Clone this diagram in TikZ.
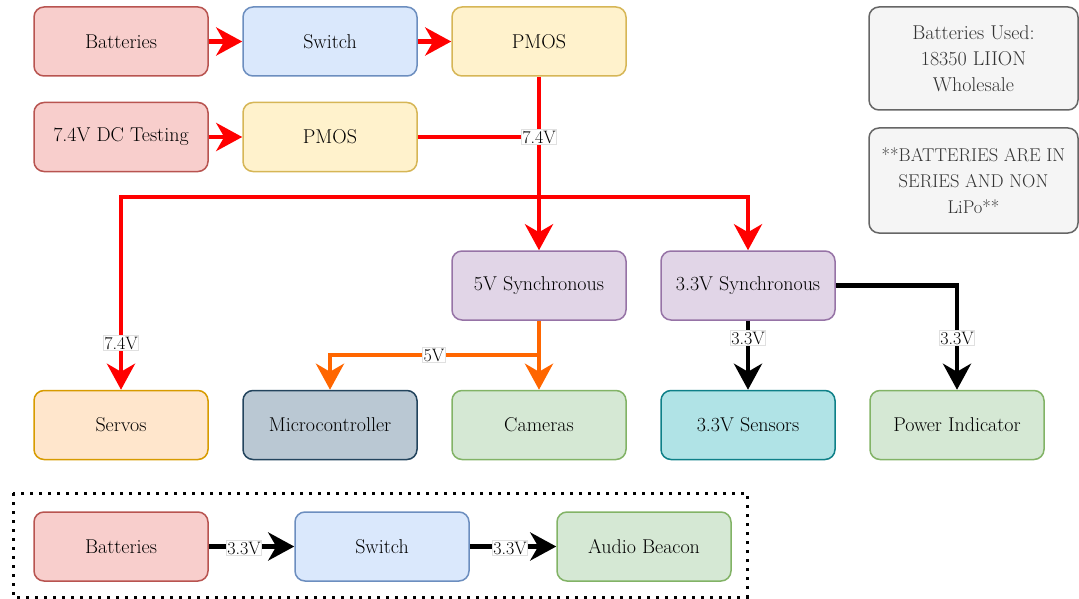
\documentclass[tikz,border=0pt]{standalone}
\usetikzlibrary{arrows.meta}
\definecolor{redF}{HTML}{F8CECC}\definecolor{redD}{HTML}{B85450}
\definecolor{bluF}{HTML}{DAE8FC}\definecolor{bluD}{HTML}{6C8EBF}
\definecolor{yelF}{HTML}{FFF2CC}\definecolor{yelD}{HTML}{D6B656}
\definecolor{purF}{HTML}{E1D5E7}\definecolor{purD}{HTML}{9673A6}
\definecolor{oraF}{HTML}{FFE6CC}\definecolor{oraD}{HTML}{D79B00}
\definecolor{slaF}{HTML}{BAC8D3}\definecolor{slaD}{HTML}{23445D}
\definecolor{grnF}{HTML}{D5E8D4}\definecolor{grnD}{HTML}{82B366}
\definecolor{tealF}{HTML}{B0E3E6}\definecolor{tealD}{HTML}{0E8088}
\definecolor{gryF}{HTML}{F5F5F5}\definecolor{gryD}{HTML}{666666}
\definecolor{gryT}{HTML}{333333}
\definecolor{wireR}{HTML}{FF0000}
\definecolor{wireO}{HTML}{FF6600}
\tikzset{
  box/.style={draw, rounded corners=10pt, line width=1.5pt, minimum width=174pt, minimum height=69pt, inner sep=0pt, align=center, font=\rmfamily\fontsize{20}{26}\selectfont},
  note/.style={box, fill=gryF, draw=gryD, text=gryT, minimum width=209pt},
  wire/.style={line width=4.5pt, -{Stealth[length=26pt,width=28pt,inset=8pt]}},
  plain/.style={line width=4.5pt},
  lbl/.style={fill=white, draw=black!12, line width=0.6pt, inner sep=1pt, font=\rmfamily\fontsize{18}{21}\selectfont}
}
\begin{document}
\begin{tikzpicture}[x=1pt,y=-1pt]
\useasboundingbox (0,0) rectangle (1079,599);
% nodes
\node[box, fill=redF, draw=redD] (bat1) at (121,41.5) {Batteries};
\node[box, fill=bluF, draw=bluD] (sw1) at (330,41.5) {Switch};
\node[box, fill=yelF, draw=yelD] (pmos1) at (539,41.5) {PMOS};
\node[box, fill=redF, draw=redD] (dc) at (121,137) {7.4V DC Testing};
\node[box, fill=yelF, draw=yelD] (pmos2) at (330,137) {PMOS};
\node[note, minimum height=103pt] (n1) at (973.5,58.5) {Batteries Used:\\18350 LIION\\Wholesale};
\node[note, minimum height=105pt, font=\rmfamily\fontsize{18.5}{26}\selectfont] (n2) at (973.5,180.5) {**BATTERIES ARE IN\\SERIES AND NON\\LiPo**};
\node[box, fill=purF, draw=purD] (s5) at (539,285.5) {5V Synchronous};
\node[box, fill=purF, draw=purD] (s33) at (748,285.5) {3.3V Synchronous};
\node[box, fill=oraF, draw=oraD] (servo) at (121,425) {Servos};
\node[box, fill=slaF, draw=slaD] (mcu) at (330,425) {Microcontroller};
\node[box, fill=grnF, draw=grnD] (cam) at (539,425) {Cameras};
\node[box, fill=tealF, draw=tealD] (sens) at (748,425) {3.3V Sensors};
\node[box, fill=grnF, draw=grnD] (pwr) at (957,425) {Power Indicator};
\node[box, fill=redF, draw=redD] (bat2) at (121,546.5) {Batteries};
\node[box, fill=bluF, draw=bluD] (sw2) at (382,546.5) {Switch};
\node[box, fill=grnF, draw=grnD] (beac) at (644,546.5) {Audio Beacon};
\draw[line width=3pt, dash pattern=on 3pt off 6pt] (13,493) rectangle (747,597);
% junctions
\coordinate (j1) at (539,137);
\coordinate (j2) at (539,197);
\coordinate (j3) at (539,355);
% red wires
\draw[wire, wireR] (bat1) -- (sw1);
\draw[wire, wireR] (sw1) -- (pmos1);
\draw[wire, wireR] (dc) -- (pmos2);
\draw[plain, wireR] (pmos2) -- (j1);
\draw[wire, wireR] (j2) -| (servo);
\draw[wire, wireR] (j2) -| (s33);
\draw[wire, wireR] (pmos1) -- (s5);
% orange wires
\draw[wire, wireO] (s5) -- (cam);
\draw[wire, wireO] (j3) -| (mcu);
% black wires
\draw[wire] (s33) -- (sens);
\draw[wire] (s33.east) -| (pwr);
\draw[wire] (bat2) -- (sw2);
\draw[wire] (sw2) -- (beac);
% labels
\node[lbl] (l1) at (539,137) {7.4V};
\node[lbl] (l2) at (121,343) {7.4V};
\node[lbl] (l3) at (434,355) {5V};
\node[lbl] (l4) at (748,338) {3.3V};
\node[lbl] (l5) at (957,338) {3.3V};
\node[lbl] (l6) at (244,548) {3.3V};
\node[lbl] (l7) at (510,548) {3.3V};
\end{tikzpicture}
\end{document}
